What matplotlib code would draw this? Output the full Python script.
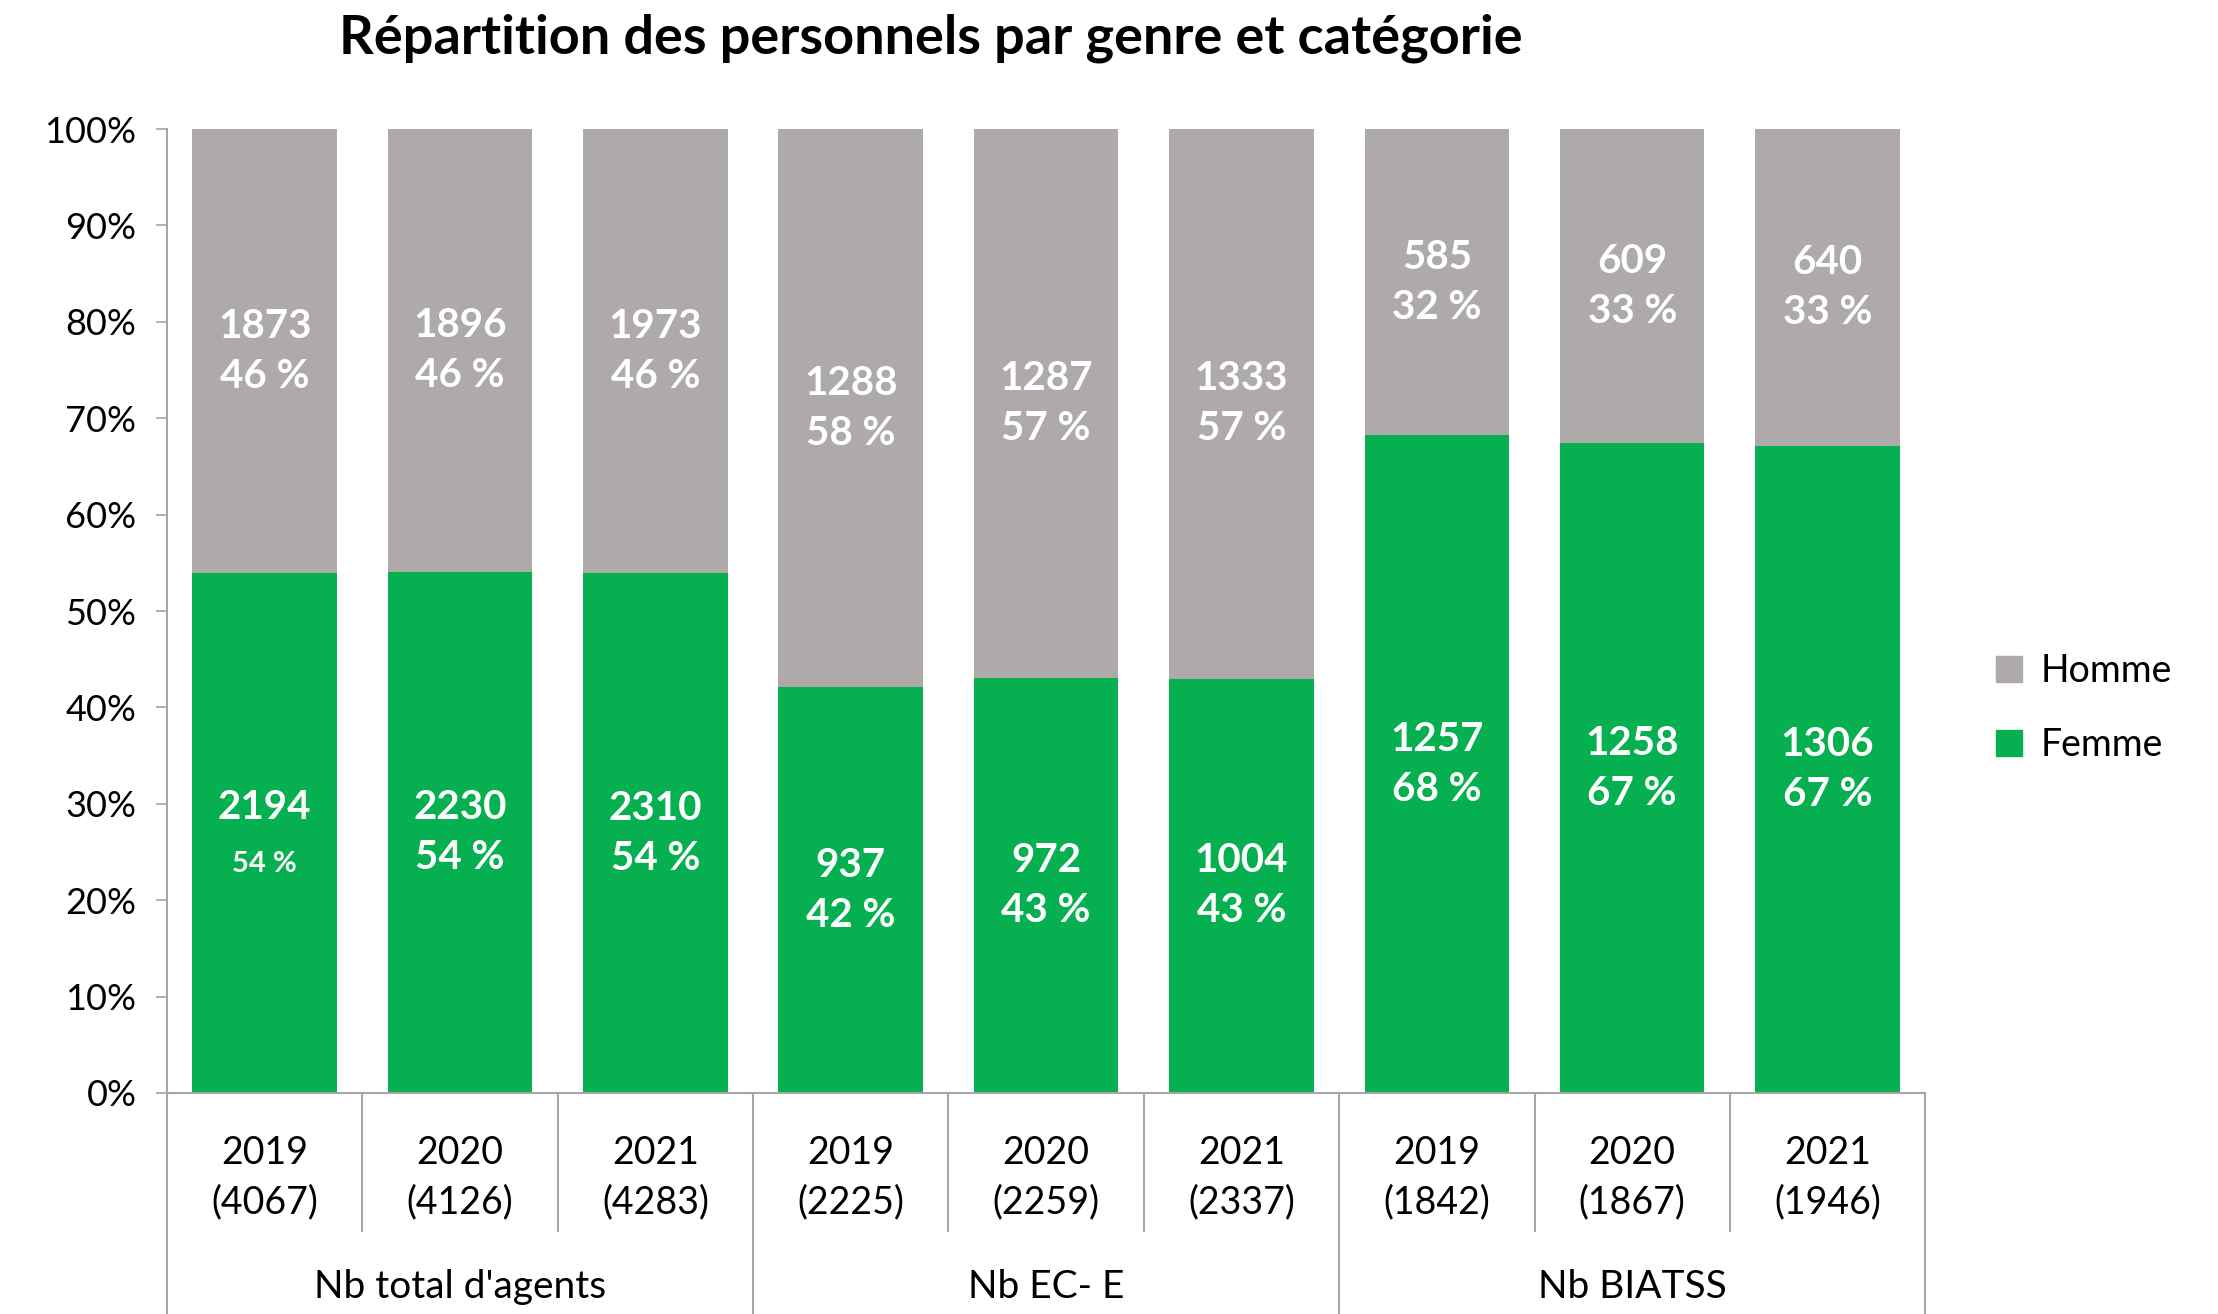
import matplotlib
matplotlib.use("Agg")
import matplotlib.pyplot as plt
import matplotlib.transforms as mtransforms
from matplotlib.patches import Patch

plt.rcParams['font.family'] = ['Lato', 'DejaVu Sans']

# Staff counts by category and year
groups = ["Nb total d'agents", "Nb EC- E", "Nb BIATSS"]
years = ["2019", "2020", "2021"]
femme = [2194, 2230, 2310, 937, 972, 1004, 1257, 1258, 1306]
homme = [1873, 1896, 1973, 1288, 1287, 1333, 585, 609, 640]
yticks = [0, 10, 20, 30, 40, 50, 60, 70, 80, 90, 100]

GREEN = "#06B050"
GREY = "#AEAAAA"
AXIS = "#A6A6A6"

totals = [f + h for f, h in zip(femme, homme)]
pct_f = [f / t * 100 for f, t in zip(femme, totals)]
pct_h = [h / t * 100 for h, t in zip(homme, totals)]
xs = list(range(len(femme)))

fig = plt.figure(figsize=(22.18, 13.14), dpi=100)
ax = fig.add_axes([0.0753, 0.1682, 0.868 - 0.0753, 0.9018 - 0.1682])

w = 0.74
ax.bar(xs, pct_f, width=w, color=GREEN, label="Femme", zorder=2)
ax.bar(xs, pct_h, width=w, bottom=pct_f, color=GREY, label="Homme", zorder=2)

ax.set_xlim(-0.5, len(xs) - 0.5)
ax.set_ylim(0, 100)
ax.set_yticks(yticks)
ax.set_yticklabels([f"{v}%" for v in yticks], fontsize=26)
ax.tick_params(axis='y', length=8, width=1.2, color=AXIS, pad=14)
ax.set_xticks([])
for s in ("top", "right"):
    ax.spines[s].set_visible(False)
for s in ("left", "bottom"):
    ax.spines[s].set_color(AXIS)
    ax.spines[s].set_linewidth(1.5)

# Segment labels: count and share
LBL = 29
for x, f, h, pf, ph in zip(xs, femme, homme, pct_f, pct_h):
    yf = pf / 2
    yh = pf + ph / 2
    small = (x == 0)
    ax.annotate(f"{f}", (x, yf), xytext=(0, 18), textcoords="offset points",
                ha="center", va="center", color="white", fontsize=LBL, fontweight="bold")
    ax.annotate(f"{round(pf)} %", (x, yf), xytext=(0, -18 if not small else -22),
                textcoords="offset points", ha="center", va="center", color="white",
                fontsize=21 if small else LBL, fontweight="bold")
    ax.annotate(f"{h}", (x, yh), xytext=(0, 18), textcoords="offset points",
                ha="center", va="center", color="white", fontsize=LBL, fontweight="bold")
    ax.annotate(f"{round(ph)} %", (x, yh), xytext=(0, -18), textcoords="offset points",
                ha="center", va="center", color="white", fontsize=LBL, fontweight="bold")

# Multi-level category axis
trans = mtransforms.blended_transform_factory(ax.transData, ax.transAxes)
for i in range(len(xs) + 1):
    xb = i - 0.5
    low = -0.23 if i % 3 == 0 else -0.143
    ax.plot([xb, xb], [0, low], transform=trans, color=AXIS, lw=1.5, clip_on=False)

for x, t in zip(xs, totals):
    ax.text(x, -0.062, years[x % 3], transform=trans, ha="center", va="center", fontsize=27)
    ax.text(x, -0.113, f"({t})", transform=trans, ha="center", va="center", fontsize=27)

for g, name in enumerate(groups):
    ax.text(3 * g + 1, -0.201, name, transform=trans, ha="center", va="center", fontsize=28)

fig.text(931 / 2218, 1 - 38 / 1314, "Répartition des personnels par genre et catégorie",
         ha="center", va="center", fontsize=39, fontweight="bold")

handles = [Patch(color=GREY, label="Homme"), Patch(color=GREEN, label="Femme")]
fig.legend(handles=handles, loc="center left", bbox_to_anchor=(1962 / 2218, 1 - 708 / 1314),
           frameon=False, fontsize=27, handlelength=0.7, handleheight=0.7,
           handletextpad=0.5, labelspacing=1.0)

fig.savefig("out.png", dpi=100)
